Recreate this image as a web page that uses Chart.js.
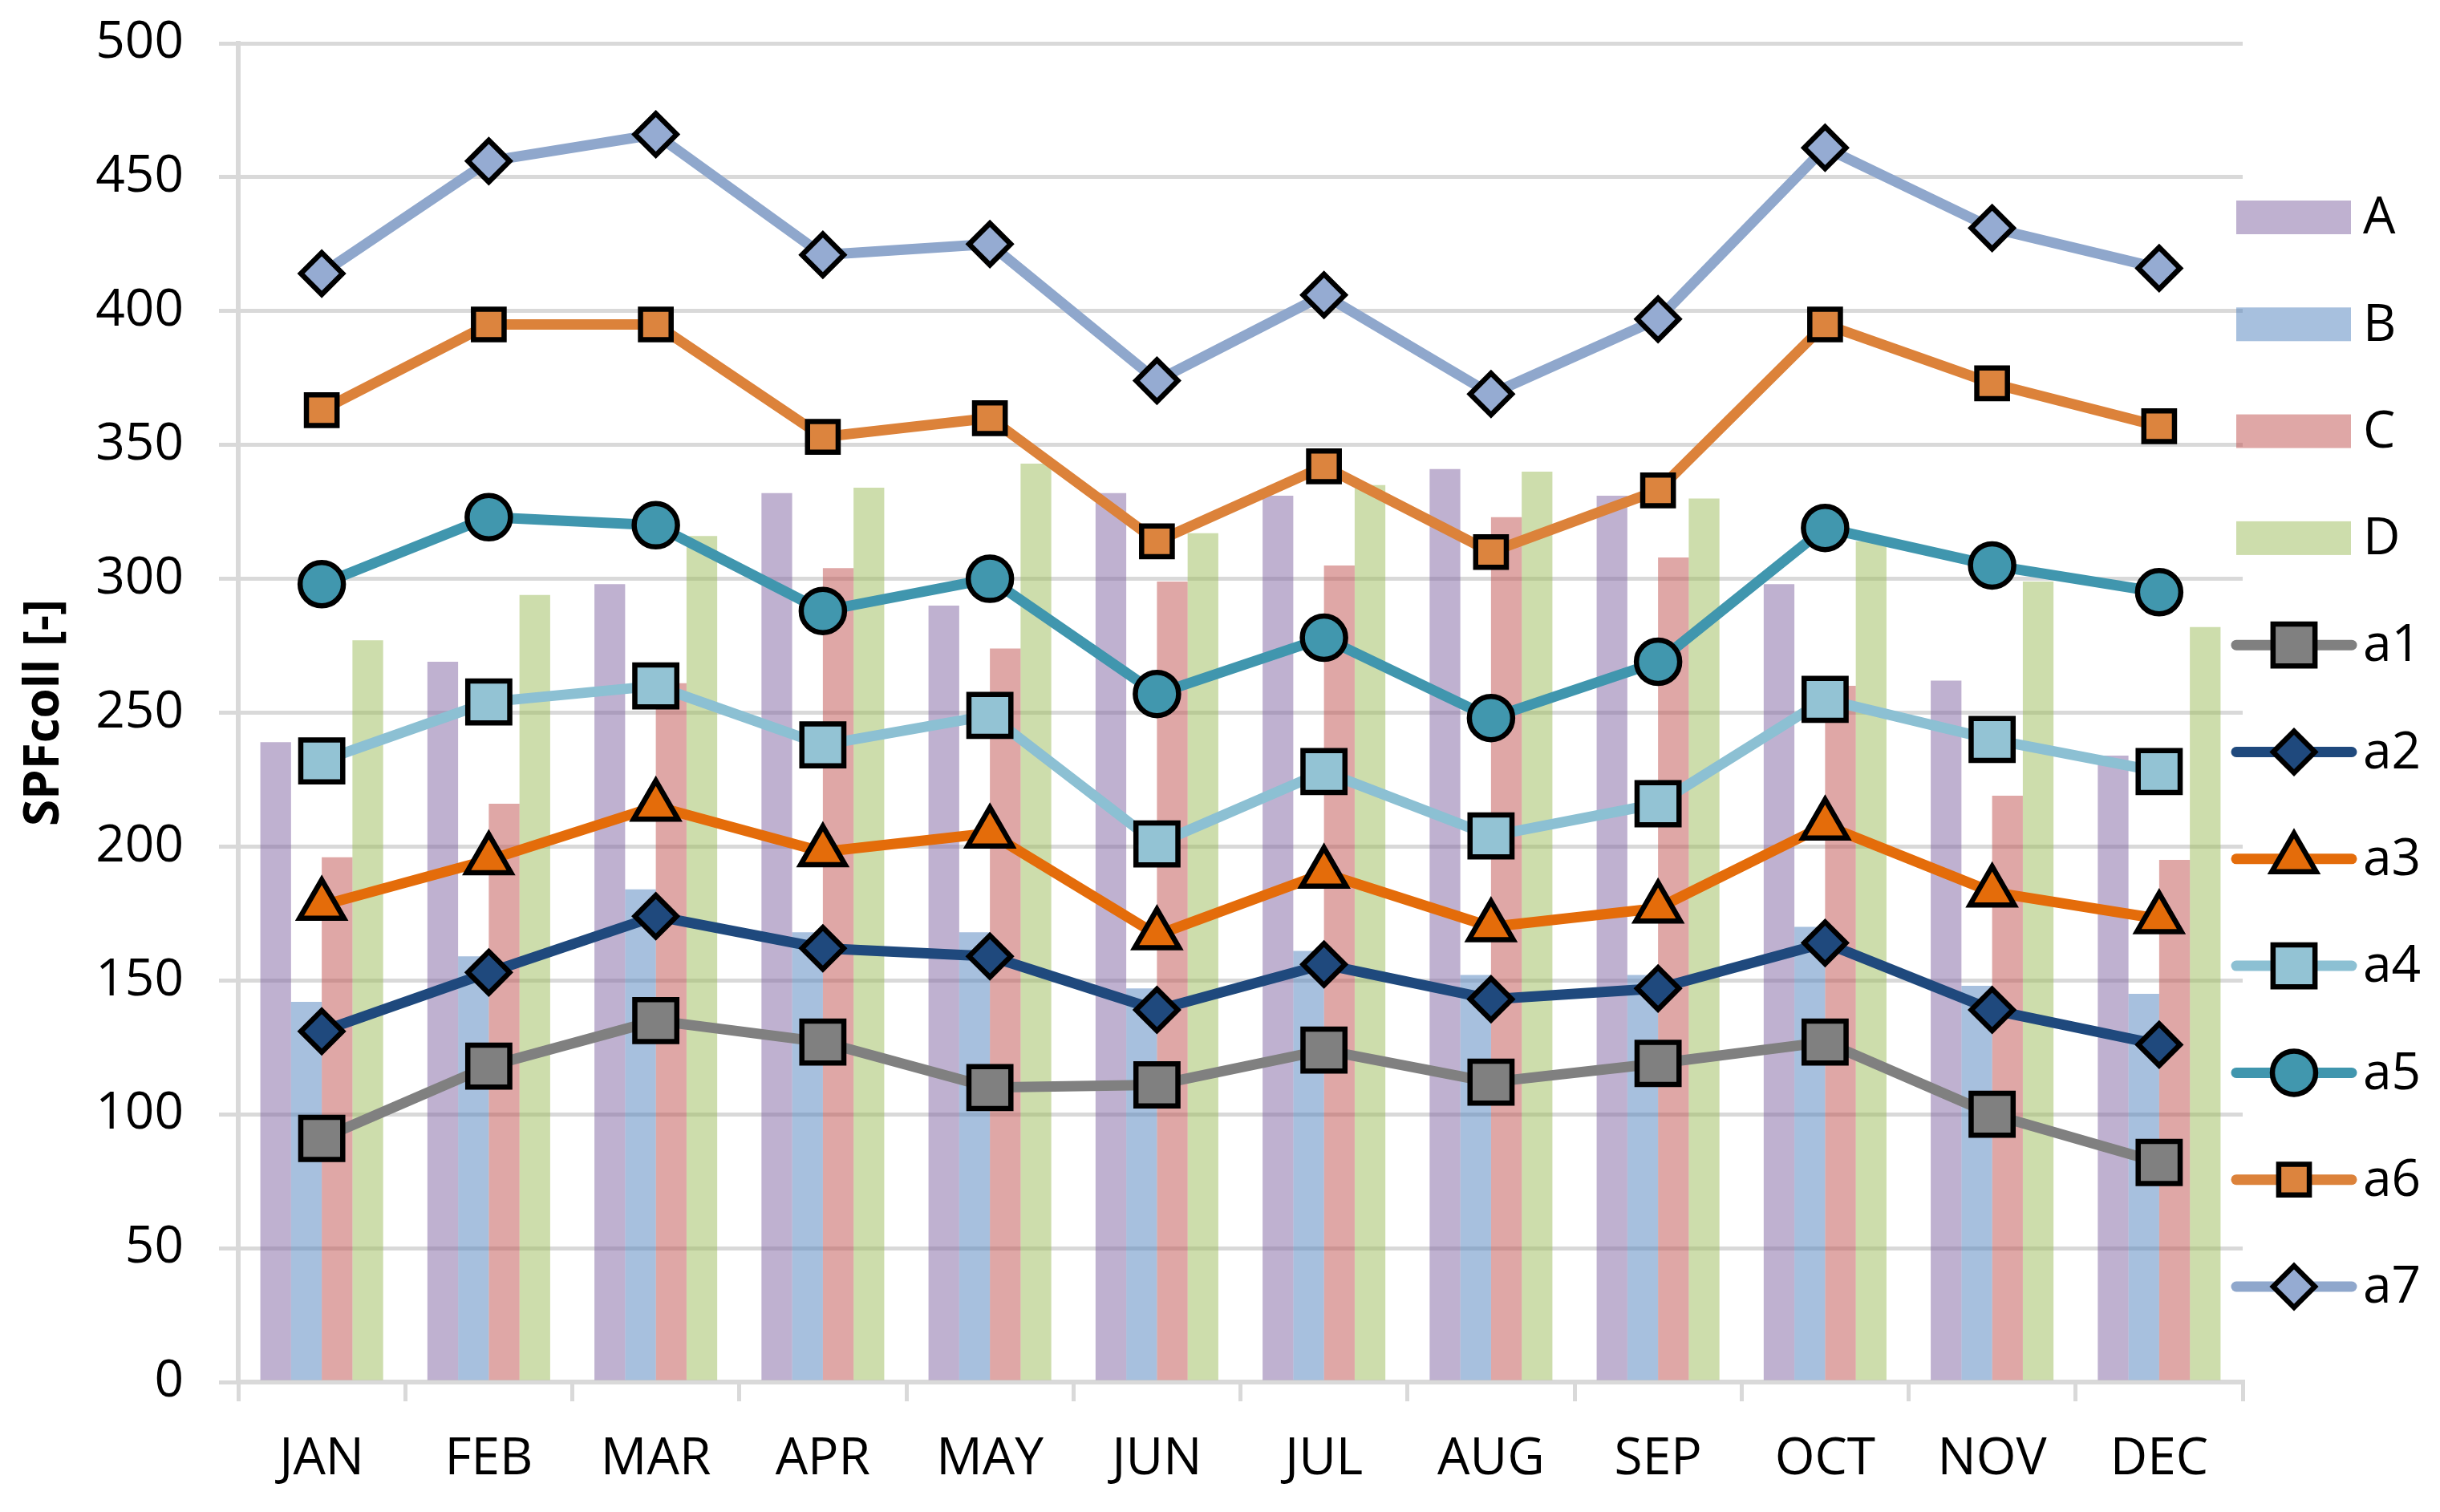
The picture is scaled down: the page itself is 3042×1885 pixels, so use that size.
<!DOCTYPE html>
<html>
<head>
<meta charset="utf-8">
<style>
  html, body { margin: 0; padding: 0; background: #fff; }
  #wrap { width: 3042px; height: 1885px; }
</style>
<script src="https://cdn.jsdelivr.net/npm/chart.js@4/dist/chart.umd.min.js"></script>
</head>
<body>
<div id="wrap"><canvas id="myChart" width="3042" height="1885"></canvas></div>
<script>
// Categories and tick labels
const months = ['JAN', 'FEB', 'MAR', 'APR', 'MAY', 'JUN', 'JUL', 'AUG', 'SEP', 'OCT', 'NOV', 'DEC'];
const yTicks = [0, 50, 100, 150, 200, 250, 300, 350, 400, 450, 500];

// Bar series
const barA = [239, 269, 298, 332, 290, 332, 331, 341, 331, 298, 262, 234];
const barB = [142, 159, 184, 168, 168, 147, 161, 152, 152, 170, 148, 145];
const barC = [196, 216, 261, 304, 274, 299, 305, 323, 308, 260, 219, 195];
const barD = [277, 294, 316, 334, 343, 317, 335, 340, 330, 314, 299, 282];

// Line series
const a1 = [91, 118, 135, 127, 110, 111, 124, 112, 119, 127, 100, 82];
const a2 = [131, 153, 174, 162, 159, 139, 156, 143, 147, 164, 139, 126];
const a3 = [178, 195, 215, 198, 205, 167, 190, 170, 177, 208, 183, 173];
const a4 = [232, 254, 260, 238, 249, 201, 228, 204, 216, 255, 240, 228];
const a5 = [298, 323, 320, 288, 300, 257, 278, 248, 269, 319, 305, 295];
const a6 = [363, 395, 395, 353, 360, 314, 342, 310, 333, 395, 373, 357];
const a7 = [414, 456, 466, 421, 425, 374, 406, 369, 397, 461, 431, 416];

const GRID = '#d9d9d9';
const FONT = '"Open Sans", "Noto Sans", sans-serif';

function bar(label, data, color) {
    return {
        type: 'bar', label: label, data: data,
        backgroundColor: color, borderWidth: 0,
        categoryPercentage: 0.735, barPercentage: 1.0,
        order: 2
    };
}

function line(label, data, color, fill, style, radius) {
    return {
        type: 'line', label: label, data: data,
        borderColor: color, borderWidth: 13, borderJoinStyle: 'round',
        pointStyle: style, pointRadius: radius, pointHoverRadius: radius,
        pointBackgroundColor: fill, pointBorderColor: '#000', pointBorderWidth: 6.5,
        fill: false, tension: 0, order: 1
    };
}

const datasets = [
    bar('A', barA, 'rgba(128, 100, 162, 0.5)'),
    bar('B', barB, 'rgba(79, 129, 189, 0.5)'),
    bar('C', barC, 'rgba(192, 80, 77, 0.5)'),
    bar('D', barD, 'rgba(155, 187, 89, 0.5)'),
    line('a1', a1, '#808080', '#808080', 'rect', 37),
    line('a2', a2, '#1f497d', '#1f497d', 'rectRot', 26),
    line('a3', a3, '#e46c0a', '#e46c0a', 'triangle', 32),
    line('a4', a4, '#8cc0d3', '#93c3d4', 'rect', 37),
    line('a5', a5, '#4096ae', '#4197ae', 'circle', 27),
    line('a6', a6, '#dc823a', '#dc843e', 'rect', 27),
    line('a7', a7, '#8fa7cc', '#95abd2', 'rectRot', 26)
];

// Legend on the right, drawn like the Excel one
const sideLegend = {
    id: 'sideLegend',
    afterDraw(chart) {
        const ctx = chart.ctx;
        ctx.save();
        chart.data.datasets.forEach((ds, i) => {
            const y = 271 + 133.3 * i;
            if (ds.type === 'bar') {
                ctx.fillStyle = ds.backgroundColor;
                ctx.fillRect(2788, y - 21, 143, 42);
            } else {
                ctx.strokeStyle = ds.borderColor;
                ctx.lineWidth = 13;
                ctx.lineCap = 'round';
                ctx.beginPath();
                ctx.moveTo(2788, y);
                ctx.lineTo(2932, y);
                ctx.stroke();
                ctx.fillStyle = ds.pointBackgroundColor;
                ctx.strokeStyle = '#000';
                ctx.lineWidth = 6.5;
                ctx.lineCap = 'butt';
                Chart.helpers.drawPoint(ctx, {
                    pointStyle: ds.pointStyle, radius: ds.pointRadius,
                    rotation: 0, borderWidth: 6.5
                }, 2860, y);
            }
            ctx.fillStyle = '#000';
            ctx.font = '64px ' + FONT;
            ctx.textAlign = 'left';
            ctx.textBaseline = 'middle';
            ctx.fillText(ds.label, 2946, y + 2);
        });
        ctx.restore();
    }
};

const ctx = document.getElementById('myChart').getContext('2d');
const myChart = new Chart(ctx, {
    data: { labels: months, datasets: datasets },
    options: {
        responsive: false,
        devicePixelRatio: 1,
        animation: false,
        layout: { padding: { top: 54, right: 246, bottom: 0, left: 0 } },
        plugins: {
            legend: { display: false },
            tooltip: { enabled: false }
        },
        scales: {
            x: {
                offset: true,
                grid: {
                    offset: true, drawOnChartArea: false, drawTicks: true,
                    tickLength: 24, color: GRID, lineWidth: 5
                },
                border: { display: true, color: GRID, width: 6 },
                ticks: {
                    color: '#000', font: { family: FONT, size: 64 },
                    padding: 34, maxRotation: 0, autoSkip: false
                },
                afterFit(scale) { scale.height = 162; }
            },
            y: {
                min: 0, max: 500,
                afterBuildTicks(scale) {
                    scale.ticks = yTicks.map(v => ({ value: v }));
                },
                grid: { color: GRID, lineWidth: 5, tickLength: 24 },
                border: { display: true, color: GRID, width: 6 },
                ticks: {
                    color: '#000', font: { family: FONT, size: 64, lineHeight: 0.3 },
                    padding: 44, autoSkip: false
                },
                title: {
                    display: true, text: 'SPFcoll [-]', color: '#000',
                    font: { family: FONT, size: 60, weight: 'bold' },
                    padding: { top: 20, bottom: 0 }
                },
                afterFit(scale) { scale.width = 297; }
            }
        }
    },
    plugins: [sideLegend]
});
</script>
</body>
</html>
